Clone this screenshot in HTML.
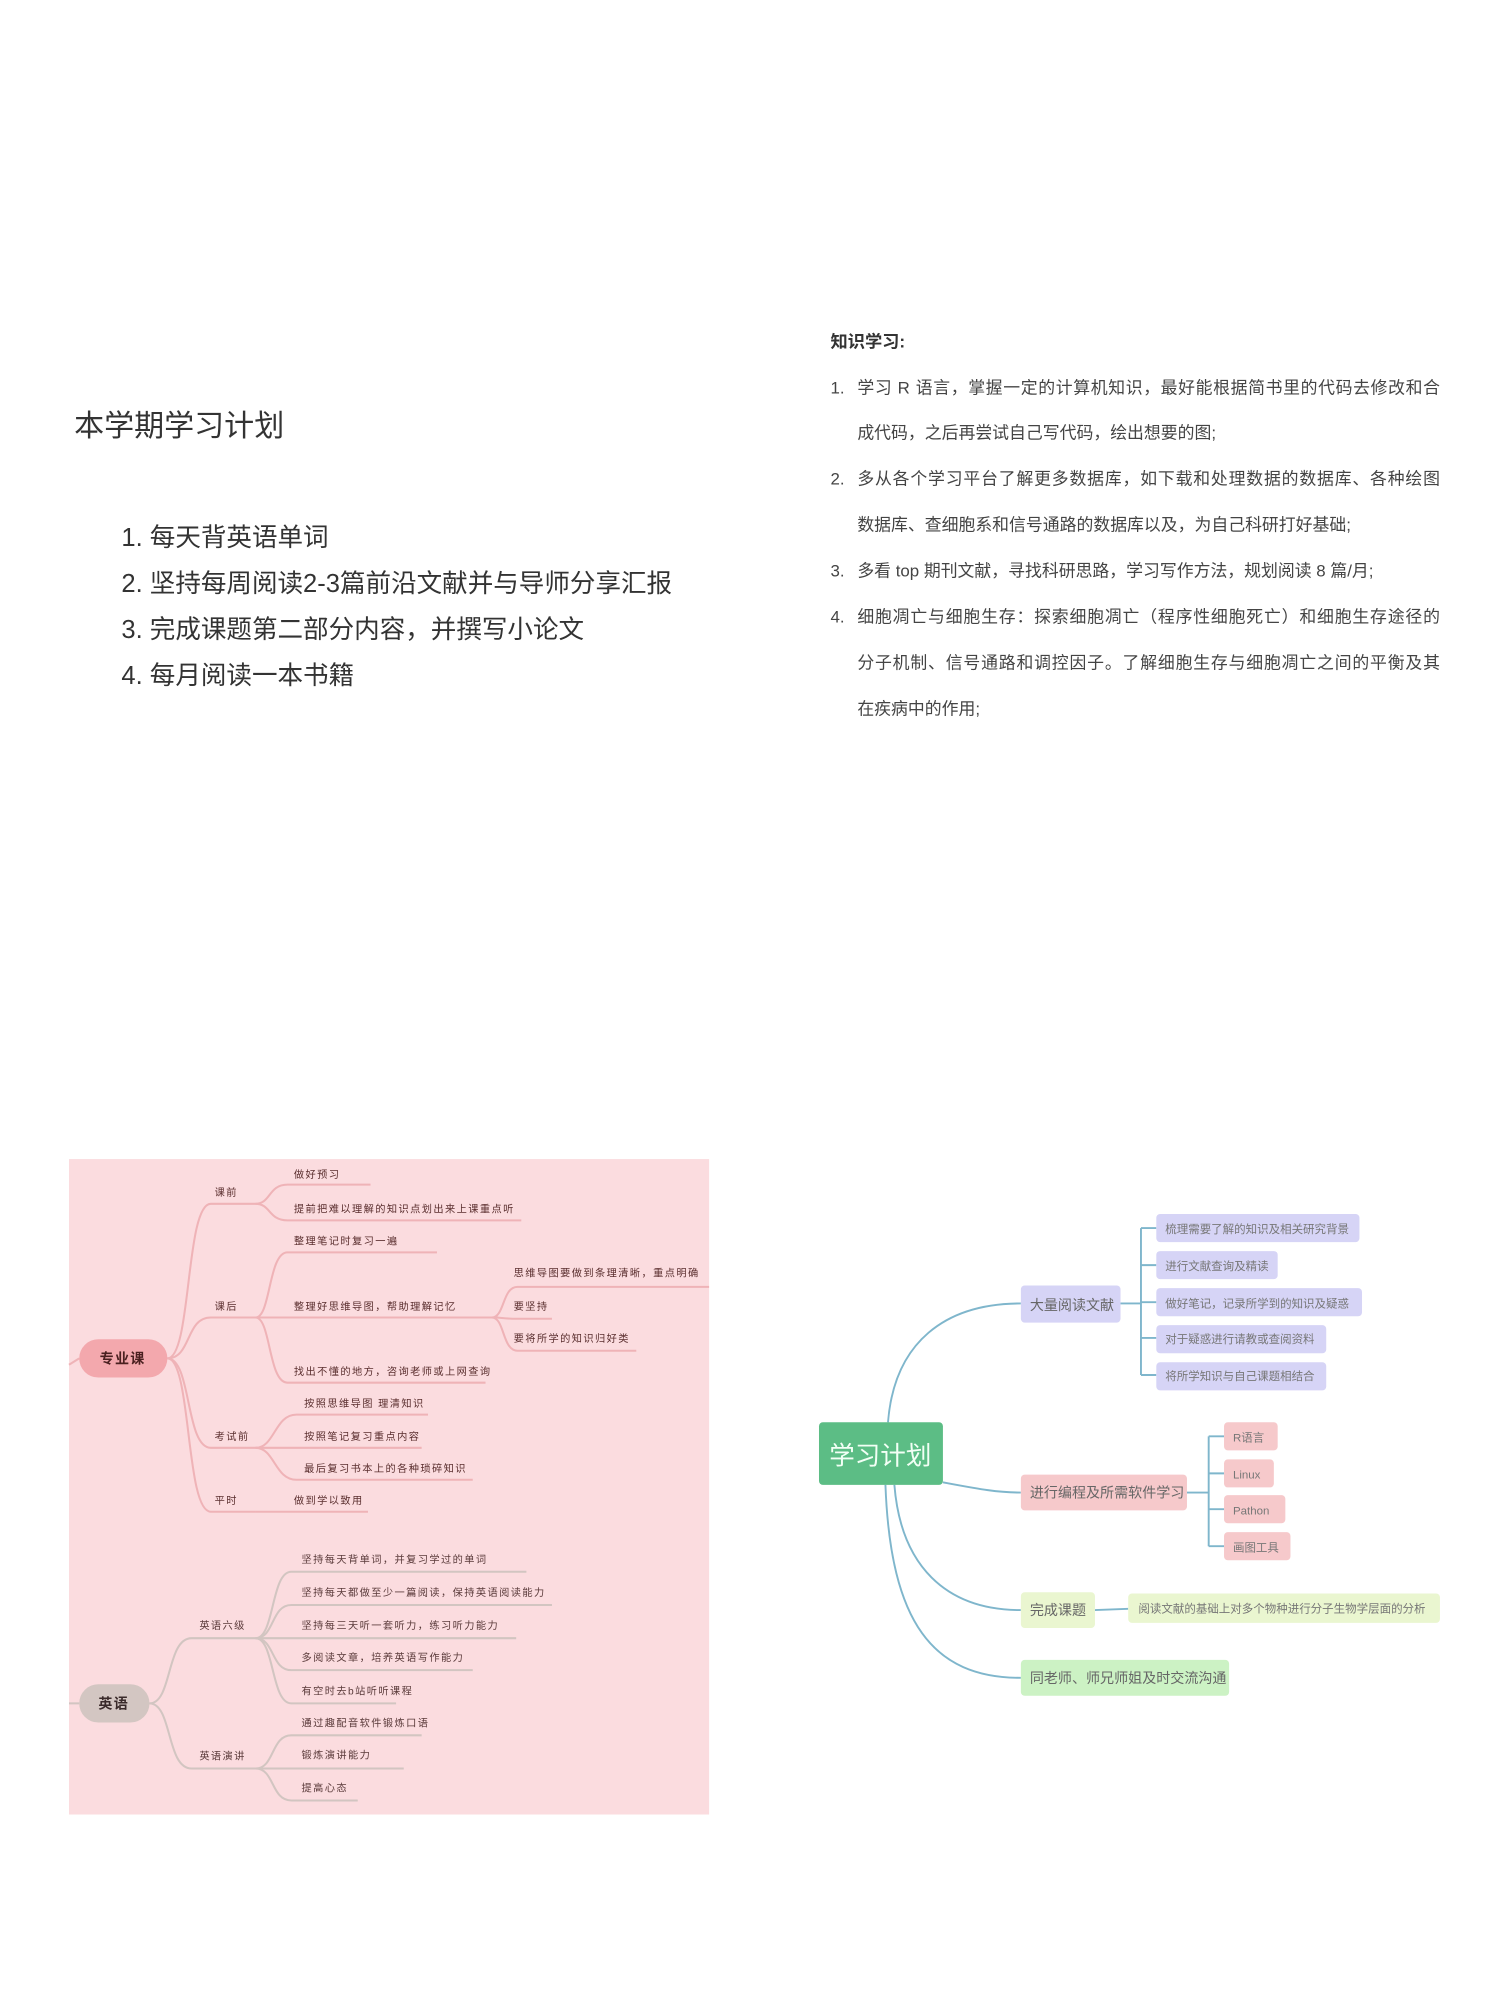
<!DOCTYPE html>
<html><head><meta charset="utf-8"><style>
html,body{margin:0;padding:0;background:#fff;}
svg{display:block;}
text{font-family:"Liberation Sans","Noto Sans CJK SC",sans-serif;}
</style></head><body>
<svg width="1500" height="2000" viewBox="0 0 1174 1565" xmlns="http://www.w3.org/2000/svg">
<rect width="1174" height="1565" fill="#fff"/>
<!-- left text -->
<text x="58" y="341" font-size="23.5" fill="#333">本学期学习计划</text>
<g font-size="20" fill="#333">
<text x="95" y="427">1. 每天背英语单词</text>
<text x="95" y="463">2. 坚持每周阅读2-3篇前沿文献并与导师分享汇报</text>
<text x="95" y="499">3. 完成课题第二部分内容，并撰写小论文</text>
<text x="95" y="535">4. 每月阅读一本书籍</text>
</g>
<!-- right text -->
<text x="650" y="272" font-size="13.5" font-weight="bold" fill="#333">知识学习:</text>
<g font-size="13.2" fill="#444">
<text x="650" y="308">1.</text><text x="671" y="308" textLength="456">学习 R 语言，掌握一定的计算机知识，最好能根据简书里的代码去修改和合</text>
<text x="671" y="343">成代码，之后再尝试自己写代码，绘出想要的图;</text>
<text x="650" y="379">2.</text><text x="671" y="379" textLength="456">多从各个学习平台了解更多数据库，如下载和处理数据的数据库、各种绘图</text>
<text x="671" y="415">数据库、查细胞系和信号通路的数据库以及，为自己科研打好基础;</text>
<text x="650" y="451">3.</text><text x="671" y="451">多看 top 期刊文献，寻找科研思路，学习写作方法，规划阅读 8 篇/月;</text>
<text x="650" y="487">4.</text><text x="671" y="487" textLength="456">细胞凋亡与细胞生存：探索细胞凋亡（程序性细胞死亡）和细胞生存途径的</text>
<text x="671" y="523" textLength="456">分子机制、信号通路和调控因子。了解细胞生存与细胞凋亡之间的平衡及其</text>
<text x="671" y="559">在疾病中的作用;</text>
</g>

<!-- pink mindmap -->
<rect x="54" y="907" width="501" height="513" fill="#fbdcdf"/>
<g fill="none" stroke="#efb3b7" stroke-width="1.6">
<path d="M54,1068 L62,1063"/>
<path d="M131,1063 C150,1063 145,942 165,942 L200,942"/>
<path d="M131,1063 C150,1063 145,1031 165,1031 L200,1031"/>
<path d="M131,1063 C150,1063 145,1133 165,1133 L200,1133"/>
<path d="M131,1063 C150,1063 145,1183 165,1183 L200,1183"/>
<path d="M200,942 C212,942 210,927 225,927 L290,927"/>
<path d="M200,942 C212,942 210,955 225,955 L408,955"/>
<path d="M200,1031 C212,1031 210,980 225,980 L342,980"/>
<path d="M200,1031 L390,1031"/>
<path d="M200,1031 C212,1031 210,1082 225,1082 L380,1082"/>
<path d="M200,1133 C215,1133 215,1107 232,1107 L335,1107"/>
<path d="M200,1133 L330,1133"/>
<path d="M200,1133 C215,1133 215,1158 232,1158 L370,1158"/>
<path d="M200,1183 L288,1183"/>
<path d="M385,1031 C395,1031 393,1007 405,1007 L555,1007"/>
<path d="M385,1031 C395,1031 393,1032 405,1032 L432,1032"/>
<path d="M385,1031 C395,1031 393,1057 405,1057 L498,1057"/>
</g>
<rect x="62" y="1048" width="69" height="30" rx="15" fill="#f3a8ad"/>
<text x="96" y="1067" font-size="11" font-weight="bold" fill="#4a2020" text-anchor="middle" letter-spacing="1">专业课</text>
<g font-size="8" fill="#5a2e2e" letter-spacing="1.1">
<text x="168" y="936">课前</text>
<text x="168" y="1025">课后</text>
<text x="168" y="1127">考试前</text>
<text x="168" y="1177">平时</text>
<text x="230" y="922">做好预习</text>
<text x="230" y="949">提前把难以理解的知识点划出来上课重点听</text>
<text x="230" y="974">整理笔记时复习一遍</text>
<text x="230" y="1025">整理好思维导图，帮助理解记忆</text>
<text x="230" y="1076">找出不懂的地方，咨询老师或上网查询</text>
<text x="238" y="1101">按照思维导图 理清知识</text>
<text x="238" y="1127">按照笔记复习重点内容</text>
<text x="238" y="1152">最后复习书本上的各种琐碎知识</text>
<text x="230" y="1177">做到学以致用</text>
<text x="402" y="999">思维导图要做到条理清晰，重点明确</text>
<text x="402" y="1025">要坚持</text>
<text x="402" y="1050">要将所学的知识归好类</text>
</g>
<g fill="none" stroke="#d2c5c1" stroke-width="1.6">
<path d="M54,1333 L62,1333"/>
<path d="M117,1333 C135,1333 130,1282 150,1282 L205,1282"/>
<path d="M117,1333 C135,1333 130,1384 150,1384 L205,1384"/>
<path d="M200,1282 C215,1282 212,1230 228,1230 L412,1230"/>
<path d="M200,1282 C215,1282 212,1256 228,1256 L432,1256"/>
<path d="M200,1282 L404,1282"/>
<path d="M200,1282 C215,1282 212,1307 228,1307 L370,1307"/>
<path d="M200,1282 C215,1282 212,1333 228,1333 L310,1333"/>
<path d="M200,1384 C215,1384 212,1358 228,1358 L330,1358"/>
<path d="M200,1384 L316,1384"/>
<path d="M200,1384 C215,1384 212,1409 228,1409 L280,1409"/>
</g>
<rect x="62" y="1318" width="55" height="30" rx="15" fill="#d3c6c2"/>
<text x="89" y="1337" font-size="11" font-weight="bold" fill="#3a2a2a" text-anchor="middle" letter-spacing="1">英语</text>
<g font-size="8" fill="#5a3a3a" letter-spacing="1.1">
<text x="156" y="1275">英语六级</text>
<text x="156" y="1377">英语演讲</text>
<text x="236" y="1223">坚持每天背单词，并复习学过的单词</text>
<text x="236" y="1249">坚持每天都做至少一篇阅读，保持英语阅读能力</text>
<text x="236" y="1275">坚持每三天听一套听力，练习听力能力</text>
<text x="236" y="1300">多阅读文章，培养英语写作能力</text>
<text x="236" y="1326">有空时去b站听听课程</text>
<text x="236" y="1351">通过趣配音软件锻炼口语</text>
<text x="236" y="1376">锻炼演讲能力</text>
<text x="236" y="1402">提高心态</text>
</g>

<!-- right mindmap -->
<g fill="none" stroke="#7fb6cc" stroke-width="1.5">
<path d="M695,1113 C700,1050 740,1020 799,1020"/>
<path d="M738,1160 C765,1165 780,1168 799,1168"/>
<path d="M700,1162 C705,1225 740,1260 799,1260"/>
<path d="M693,1162 C697,1270 730,1313 799,1313"/>
<path d="M877,1020 L893,1020 M893,961 L893,1076 M893,961 L905,961 M893,990 L905,990 M893,1019 L905,1019 M893,1047 L905,1047 M893,1076 L905,1076"/>
<path d="M929,1168 L946,1168 M946,1124 L946,1210 M946,1124 L958,1124 M946,1153 L958,1153 M946,1181 L958,1181 M946,1210 L958,1210"/>
<path d="M857,1260 L883,1259"/>
</g>
<rect x="641" y="1113" width="97" height="49" rx="3" fill="#5cbd85"/>
<text x="689" y="1146" font-size="20" fill="#f2fff5" text-anchor="middle">学习计划</text>
<g fill="#d6d4f6">
<rect x="799" y="1006" width="78" height="29" rx="3"/>
<rect x="905" y="950" width="159" height="22" rx="3"/>
<rect x="905" y="979" width="95" height="22" rx="3"/>
<rect x="905" y="1008" width="161" height="22" rx="3"/>
<rect x="905" y="1037" width="133" height="22" rx="3"/>
<rect x="905" y="1066" width="133" height="22" rx="3"/>
</g>
<g fill="#f6c9cb">
<rect x="799" y="1154" width="130" height="28" rx="3"/>
<rect x="958" y="1113" width="42" height="22" rx="3"/>
<rect x="958" y="1142" width="39" height="22" rx="3"/>
<rect x="958" y="1170" width="48" height="22" rx="3"/>
<rect x="958" y="1199" width="52" height="22" rx="3"/>
</g>
<rect x="799" y="1246" width="58" height="28" rx="3" fill="#eaf6d0"/>
<rect x="883" y="1247" width="244" height="23" rx="3" fill="#eaf6d0"/>
<rect x="799" y="1299" width="163" height="28" rx="3" fill="#ccf2c4"/>
<g font-size="11" fill="#666">
<text x="806" y="1025">大量阅读文献</text>
<text x="806" y="1172">进行编程及所需软件学习</text>
<text x="806" y="1264">完成课题</text>
<text x="806" y="1317">同老师、师兄师姐及时交流沟通</text>
</g>
<g font-size="9" fill="#777">
<text x="912" y="965">梳理需要了解的知识及相关研究背景</text>
<text x="912" y="994">进行文献查询及精读</text>
<text x="912" y="1023">做好笔记，记录所学到的知识及疑惑</text>
<text x="912" y="1051">对于疑惑进行请教或查阅资料</text>
<text x="912" y="1080">将所学知识与自己课题相结合</text>
<text x="965" y="1128">R语言</text>
<text x="965" y="1157">Linux</text>
<text x="965" y="1185">Pathon</text>
<text x="965" y="1214">画图工具</text>
<text x="891" y="1262">阅读文献的基础上对多个物种进行分子生物学层面的分析</text>
</g>
</svg>
</body></html>
